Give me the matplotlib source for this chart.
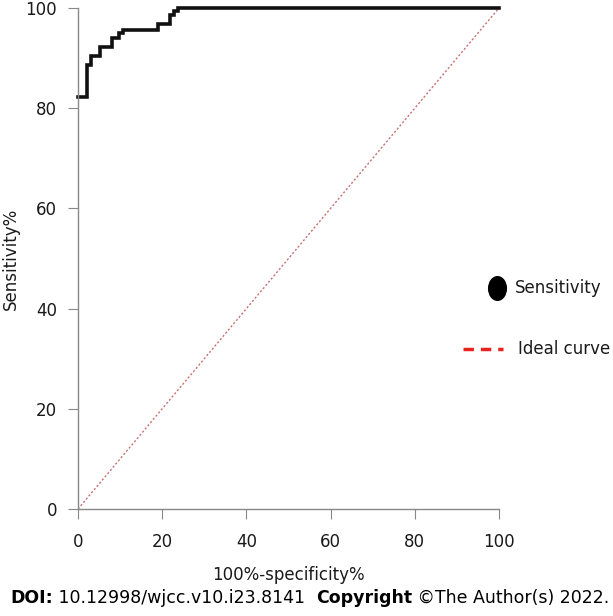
import matplotlib
matplotlib.use("Agg")
import matplotlib.pyplot as plt
from matplotlib.lines import Line2D
from matplotlib.path import Path
from matplotlib.transforms import Affine2D

# ROC step curve (100%-specificity%, sensitivity%)
fpr = [0, 2.2, 2.2, 3.0, 3.0, 5.2, 5.2, 8.0, 8.0, 9.8, 9.8, 10.8, 10.8,
       19.1, 19.1, 21.9, 21.9, 22.8, 22.8, 23.8, 23.8, 100]
sens = [82.2, 82.2, 88.6, 88.6, 90.4, 90.4, 92.3, 92.3, 94.0, 94.0, 95.0, 95.0, 95.7,
        95.7, 96.8, 96.8, 98.6, 98.6, 99.4, 99.4, 100, 100]
ideal_x = [0, 100]
ideal_y = [0, 100]
ticks = [0, 20, 40, 60, 80, 100]

W, H = 613, 616
fig = plt.figure(figsize=(W / 100, H / 100), dpi=100)
ax = fig.add_axes([78 / W, 1 - 509 / H, (499 - 78) / W, (509 - 8) / H])

ax.plot(ideal_x, ideal_y, color="#c87070", linestyle=(0, (1.5, 1.5)), linewidth=1.0)
ax.plot(fpr, sens, color="#111111", linewidth=2.6, solid_joinstyle="miter", clip_on=False)

ax.set_xlim(0, 100)
ax.set_ylim(0, 100)
ax.set_xticks(ticks)
ax.set_yticks(ticks)
ax.tick_params(labelsize=12, length=7, color="#888888", labelcolor="#1a1a1a")
ax.tick_params(axis="x", pad=10)
ax.tick_params(axis="y", pad=8)
for side in ("top", "right"):
    ax.spines[side].set_visible(False)
for side in ("left", "bottom"):
    ax.spines[side].set_color("#888888")
    ax.spines[side].set_linewidth(1.0)

ax.set_xlabel("100%-specificity%", fontsize=12, color="#1a1a1a", labelpad=11)
ax.set_ylabel("Sensitivity%", fontsize=12, color="#1a1a1a", labelpad=4)

# legend drawn by hand, outside the axes
ellipse = Path.unit_circle().transformed(Affine2D().scale(0.75, 1.0))
fig.add_artist(Line2D([497 / W], [1 - 288 / H], marker=ellipse, markersize=17,
                      color="black", linestyle="none", transform=fig.transFigure))
fig.text(515 / W, 1 - 288 / H, "Sensitivity", fontsize=12, va="center", color="#1a1a1a")
fig.add_artist(Line2D([463 / W, 503 / W], [1 - 349 / H] * 2, color="#e8231e",
                      linestyle=(0, (3, 2)), linewidth=2.5, transform=fig.transFigure))
fig.text(518 / W, 1 - 349 / H, "Ideal curve", fontsize=12, va="center", color="#1a1a1a")

# citation footer
t = fig.text(10 / W, 1 - 598 / H, "DOI:", fontsize=12.5, fontweight="bold", va="center")
t = ax.annotate(" 10.12998/wjcc.v10.i23.8141  ", xy=(1, 0.5), xycoords=t,
                va="center", fontsize=12.5, annotation_clip=False)
t = ax.annotate("Copyright", xy=(1, 0.5), xycoords=t, va="center",
                fontsize=12.5, fontweight="bold", annotation_clip=False)
ax.annotate(" \u00a9The Author(s) 2022.", xy=(1, 0.5), xycoords=t, va="center",
            fontsize=12.5, annotation_clip=False)

fig.savefig("out.png", dpi=100)
